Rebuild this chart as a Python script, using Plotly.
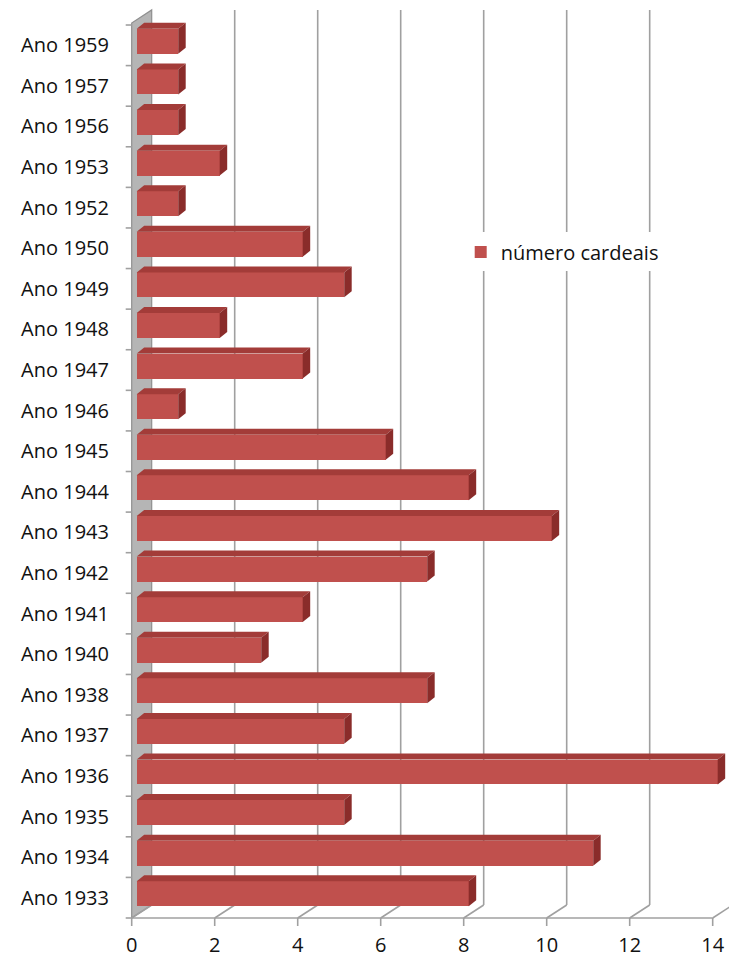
import plotly.graph_objects as go

# Number of cardinals created per year (bottom to top)
anos = ["Ano 1933", "Ano 1934", "Ano 1935", "Ano 1936", "Ano 1937", "Ano 1938",
        "Ano 1940", "Ano 1941", "Ano 1942", "Ano 1943", "Ano 1944", "Ano 1945",
        "Ano 1946", "Ano 1947", "Ano 1948", "Ano 1949", "Ano 1950", "Ano 1952",
        "Ano 1953", "Ano 1956", "Ano 1957", "Ano 1959"]
cardeais = [8, 11, 5, 14, 5, 7, 3, 4, 7, 10, 8, 6, 1, 4, 2, 5, 4, 1, 2, 1, 1, 1]
x_ticks = [0, 2, 4, 6, 8, 10, 12, 14]
serie = "número cardeais"

# Pseudo-3D box geometry (in axis units)
PX_X = 41.5            # pixels per x unit
PX_Y = 40.59           # pixels per category
BACK_DX = 20 / PX_X    # depth offset of the back wall
BACK_DY = 13 / PX_Y
WALL_TOP = 21.55       # top of the left wall (front edge)
BAR_X0 = 5 / PX_X      # bars start slightly behind the front edge
BAR_LO = -0.21         # bar front face position inside its band
BAR_W = 0.615
BAR_DX = 7.5 / PX_X    # bar depth
BAR_DY = 6 / PX_Y

FRONT = "#c0504d"
TOP = "#a33c39"
SIDE = "#8a2c2a"
GRID = "#a0a0a0"
FONT = "Open Sans"

y_idx = list(range(len(anos)))
floor_y = -0.5

fig = go.Figure()
fig.add_trace(go.Bar(
    y=y_idx, x=cardeais, base=BAR_X0, orientation="h",
    width=BAR_W, offset=BAR_LO,
    marker=dict(color=FRONT, line=dict(width=0)),
    name=serie, showlegend=True,
))

shapes = []
# left wall
shapes.append(dict(
    type="path", xref="x", yref="y", layer="below",
    path=(f"M 0,{floor_y} L 0,{WALL_TOP} L {BACK_DX},{WALL_TOP + BACK_DY} "
          f"L {BACK_DX},{floor_y + BACK_DY} Z"),
    fillcolor="#b5b5b5", line=dict(color="#8f8f8f", width=1.2),
))
# floor front edge
shapes.append(dict(type="line", xref="x", yref="y", layer="below",
                   x0=0, x1=x_ticks[-1], y0=floor_y, y1=floor_y,
                   line=dict(color=GRID, width=1.6)))
for k in x_ticks:
    # floor diagonal
    shapes.append(dict(type="line", xref="x", yref="y", layer="below",
                       x0=k, y0=floor_y, x1=k + BACK_DX, y1=floor_y + BACK_DY,
                       line=dict(color=GRID, width=1.6)))
    # back wall gridline
    if k > 0:
        shapes.append(dict(type="line", xref="x", yref="y", layer="below",
                           x0=k + BACK_DX, x1=k + BACK_DX,
                           y0=floor_y + BACK_DY, y1=WALL_TOP + BACK_DY,
                           line=dict(color=GRID, width=1.6)))
    # x tick marks
    shapes.append(dict(type="line", xref="x", yref="y", layer="below",
                       x0=k, x1=k, y0=floor_y, y1=floor_y - 8 / PX_Y,
                       line=dict(color=GRID, width=1.6)))
# category tick marks on the wall
for j in range(len(anos) + 1):
    shapes.append(dict(type="line", xref="x", yref="y", layer="below",
                       x0=-6 / PX_X, x1=0, y0=j - 0.5, y1=j - 0.5,
                       line=dict(color=GRID, width=1.6)))

# top and side faces of each bar
for i, v in zip(y_idx, cardeais):
    yb = i + BAR_LO
    yt = yb + BAR_W
    x1 = BAR_X0 + v
    shapes.append(dict(
        type="path", xref="x", yref="y", layer="above",
        path=(f"M {BAR_X0},{yt} L {x1},{yt} L {x1 + BAR_DX},{yt + BAR_DY} "
              f"L {BAR_X0 + BAR_DX},{yt + BAR_DY} Z"),
        fillcolor=TOP, line=dict(width=0),
    ))
    shapes.append(dict(
        type="path", xref="x", yref="y", layer="above",
        path=(f"M {x1},{yt} L {x1 + BAR_DX},{yt + BAR_DY} "
              f"L {x1 + BAR_DX},{yb + BAR_DY} L {x1},{yb} Z"),
        fillcolor=SIDE, line=dict(width=0),
    ))

fig.update_layout(
    width=729, height=957,
    margin=dict(l=122, r=0, t=5, b=27),
    paper_bgcolor="white", plot_bgcolor="white",
    font=dict(family=FONT, size=20, color="#111111"),
    shapes=shapes,
    bargap=0,
    showlegend=True,
    legend=dict(
        x=0.558, y=0.733, xanchor="left", yanchor="middle",
        bgcolor="white", borderwidth=0,
        font=dict(family=FONT, size=20, color="#111111"),
        itemwidth=30,
    ),
    xaxis=dict(
        range=[-0.2337, 14.393], tickmode="array", tickvals=x_ticks,
        ticktext=[str(t) for t in x_ticks],
        showgrid=False, zeroline=False, showline=False, ticks="",
        ticklabelstandoff=1, automargin=False,
    ),
    yaxis=dict(
        range=[-0.7956, 21.993], tickmode="array", tickvals=y_idx,
        ticktext=anos, showgrid=False, zeroline=False, showline=False,
        ticks="", ticklabelstandoff=12, automargin=False,
    ),
)

fig.write_html("out.html")
